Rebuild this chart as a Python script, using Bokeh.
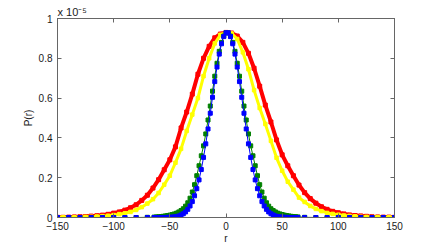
from bokeh.plotting import figure
from bokeh.models import FixedTicker, LinearAxis, Range1d, CustomJSTickFormatter
from bokeh.embed import file_html
from bokeh.resources import INLINE

# P(r) values are in units of 1e-5 (axis multiplier shown as "x 10^-5")
r_wide = list(range(-150, 151, 5))
p_red = [0.001, 0.001, 0.002, 0.003, 0.004, 0.005, 0.007, 0.009, 0.012, 0.016,
         0.022, 0.028, 0.037, 0.049, 0.064, 0.086, 0.112, 0.148, 0.19, 0.24,
         0.29, 0.355, 0.45, 0.53, 0.62, 0.72, 0.80, 0.86, 0.903, 0.922,
         0.930,
         0.927, 0.912, 0.88, 0.825, 0.75, 0.66, 0.565, 0.48, 0.39, 0.315,
         0.26, 0.21, 0.163, 0.125, 0.095, 0.072, 0.054, 0.041, 0.031, 0.024,
         0.018, 0.013, 0.010, 0.008, 0.006, 0.004, 0.003, 0.002, 0.002, 0.001]
p_yellow = [0.001, 0.001, 0.001, 0.001, 0.002, 0.003, 0.004, 0.005, 0.007, 0.009,
            0.012, 0.017, 0.021, 0.028, 0.038, 0.052, 0.07, 0.092, 0.123, 0.165,
            0.21, 0.275, 0.345, 0.435, 0.517, 0.60, 0.71, 0.80, 0.875, 0.918,
            0.930,
            0.925, 0.897, 0.83, 0.745, 0.64, 0.55, 0.47, 0.385, 0.30, 0.235,
            0.18, 0.14, 0.10, 0.078, 0.058, 0.043, 0.032, 0.023, 0.018, 0.014,
            0.010, 0.008, 0.006, 0.004, 0.003, 0.002, 0.002, 0.001, 0.001, 0.001]

r_narrow = list(range(-150, -69, 10)) + list(range(-64, 65, 2)) + list(range(70, 151, 10))
p_green = ([0, 0, 0, 0, 0, 0, 0, 0, 0.001] +
           [0.002, 0.003, 0.004, 0.005, 0.006, 0.008, 0.010, 0.012, 0.015, 0.018,
            0.022, 0.028, 0.035, 0.044, 0.057, 0.074, 0.097, 0.128, 0.165, 0.21,
            0.26, 0.31, 0.36, 0.42, 0.49, 0.56, 0.635, 0.71, 0.775, 0.835,
            0.88, 0.912, 0.928,
            0.928, 0.912, 0.88, 0.835, 0.775, 0.71, 0.635, 0.56, 0.49, 0.42,
            0.36, 0.31, 0.26, 0.21, 0.165, 0.128, 0.097, 0.074, 0.057, 0.044,
            0.035, 0.028, 0.022, 0.018, 0.015, 0.012, 0.010, 0.008, 0.006, 0.005,
            0.004, 0.003] +
           [0.001, 0, 0, 0, 0, 0, 0, 0, 0])
p_blue = ([0, 0, 0, 0, 0, 0, 0, 0, 0] +
          [0, 0, 0, 0, 0, 0, 0.001, 0.001, 0.002, 0.003,
           0.005, 0.008, 0.013, 0.019, 0.028, 0.041, 0.058, 0.080, 0.109, 0.145,
           0.189, 0.241, 0.302, 0.370, 0.445, 0.524, 0.604, 0.683, 0.756, 0.821,
           0.873, 0.909, 0.928,
           0.928, 0.909, 0.873, 0.821, 0.756, 0.683, 0.604, 0.524, 0.445, 0.370,
           0.302, 0.241, 0.189, 0.145, 0.109, 0.080, 0.058, 0.041, 0.028, 0.019,
           0.013, 0.008, 0.005, 0.003, 0.002, 0.001, 0.001, 0, 0, 0,
           0, 0] +
          [0, 0, 0, 0, 0, 0, 0, 0, 0])

x_ticks = [-150, -100, -50, 0, 50, 100, 150]
x_tick_labels = ["\u2212150", "\u2212100", "\u221250", "0", "50", "100", "150"]
y_ticks = [0, 0.2, 0.4, 0.6, 0.8, 1]
y_tick_labels = ["0", "0.2", "0.4", "0.6", "0.8", "1"]
multiplier_text = "x 10\u207b\u2075"

FONT = "Liberation Sans"
AX = "#666666"
TXT = "#1a1a1a"

p = figure(width=430, height=246, output_backend="svg", toolbar_location=None,
           x_range=Range1d(-150, 150), y_range=Range1d(0, 1),
           min_border_left=57, min_border_top=18, min_border_right=36, min_border_bottom=28,
           x_axis_label="r", y_axis_label="P(r)", title=multiplier_text)
p.background_fill_color = "white"
p.border_fill_color = "white"
p.outline_line_color = AX
p.xgrid.visible = False
p.ygrid.visible = False

p.title.align = "left"
p.title.offset = 0
p.title.standoff = 1
p.title.text_font = FONT
p.title.text_font_size = "11px"
p.title.text_font_style = "normal"
p.title.text_color = TXT

for ax in p.xaxis:
    ax.ticker = FixedTicker(ticks=x_ticks)
    ax.major_label_overrides = dict(zip(x_ticks, x_tick_labels))
for ax in p.yaxis:
    ax.ticker = FixedTicker(ticks=y_ticks)
    ax.major_label_overrides = dict(zip(y_ticks, y_tick_labels))

for ax in list(p.xaxis) + list(p.yaxis):
    ax.axis_line_color = AX
    ax.major_tick_line_color = AX
    ax.major_tick_in = 4
    ax.major_tick_out = 0
    ax.minor_tick_line_color = None
    ax.major_label_text_font = FONT
    ax.major_label_text_font_size = "10px"
    ax.major_label_text_color = TXT
    ax.axis_label_text_font = FONT
    ax.axis_label_text_font_size = "10px"
    ax.axis_label_text_font_style = "normal"
    ax.axis_label_text_color = TXT
p.xaxis.major_label_standoff = 4
p.xaxis.axis_label_standoff = 0
p.yaxis.major_label_standoff = 5
p.yaxis.axis_label_standoff = 2

empty = CustomJSTickFormatter(code="return ''")
top = LinearAxis(ticker=FixedTicker(ticks=x_ticks), formatter=empty)
right = LinearAxis(ticker=FixedTicker(ticks=y_ticks), formatter=empty)
for ax in (top, right):
    ax.axis_line_color = AX
    ax.major_tick_line_color = AX
    ax.major_tick_in = 4
    ax.major_tick_out = 0
    ax.minor_tick_line_color = None
    ax.major_label_standoff = 0
    ax.major_label_text_font_size = "1px"
p.add_layout(top, "above")
p.add_layout(right, "right")

# curves
p.line(r_wide, p_red, color="#ff0000", line_width=4)
p.scatter(r_wide, p_red, marker="square", size=4, color="#ff0000")
p.line(r_wide, p_yellow, color="#ffff00", line_width=3)
p.scatter(r_wide, p_yellow, marker="square", size=3.5, color="#ffff00")
p.line(r_narrow, p_green, color="#008000", line_width=1)
p.scatter(r_narrow, p_green, marker="square", size=4, color="#008000")
p.line(r_narrow, p_blue, color="#0000ff", line_width=1)
p.scatter(r_narrow, p_blue, marker="square", size=4, color="#0000ff")

open("out.html", "w").write(file_html(p, INLINE))
